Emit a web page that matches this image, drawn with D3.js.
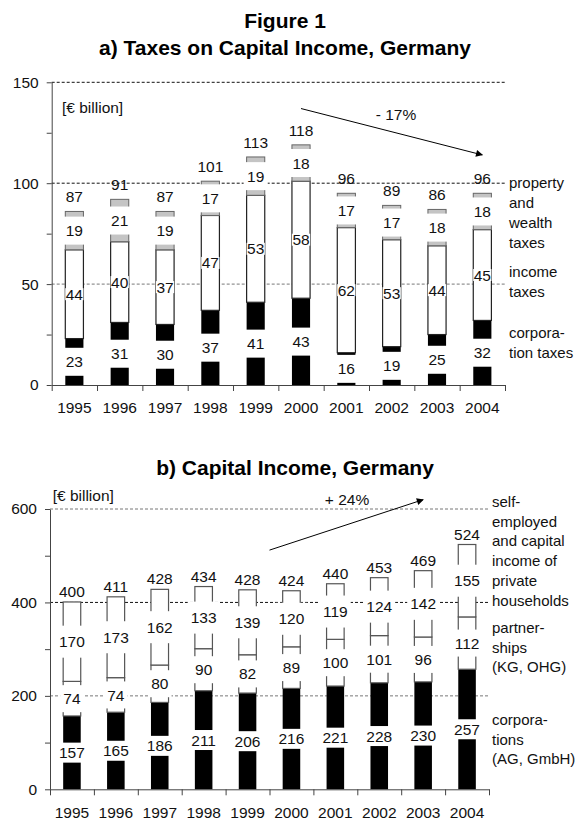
<!DOCTYPE html>
<meta charset="utf-8">
<style>
body { margin: 0; background: #fff; }
svg { font-family: "Liberation Sans", Arial, sans-serif; }
.title { font-size: 21px; font-weight: bold; text-anchor: middle; fill: #000; }
.num { font-size: 15.5px; fill: #111; text-anchor: middle; }
.unit { font-size: 15.5px; fill: #111; }
.legend { font-size: 15px; fill: #111; }
.axis text { font-size: 15.5px; fill: #111; font-family: "Liberation Sans", Arial, sans-serif; }
.axis path, .axis line { stroke: #444; }
</style>
<body>
<script src="https://d3js.org/d3.v7.min.js"></script>
<script>
var years = [1995, 1996, 1997, 1998, 1999, 2000, 2001, 2002, 2003, 2004];

// a) taxes on capital income, € billion
var corpTax   = [23, 31, 30, 37, 41, 43, 16, 19, 25, 32];
var incomeTax = [44, 40, 37, 47, 53, 58, 62, 53, 44, 45];
var propTax   = [19, 21, 19, 17, 19, 18, 17, 17, 18, 18];
var taxTotal  = [87, 91, 87, 101, 113, 118, 96, 89, 86, 96];
var taxTicks  = [0, 25, 50, 75, 100, 125, 150];
var taxTickLabels = [0, 50, 100, 150];
var taxLegend = [["property", "and", "wealth", "taxes"], ["income", "taxes"], ["corpora-", "tion taxes"]];

// b) capital income, € billion
var corpInc    = [157, 165, 186, 211, 206, 216, 221, 228, 230, 257];
var partnerInc = [74, 74, 80, 90, 82, 89, 100, 101, 96, 112];
var selfInc    = [170, 173, 162, 133, 139, 120, 119, 124, 142, 155];
var incTotal   = [400, 411, 428, 434, 428, 424, 440, 453, 469, 524];
var incTicks   = [0, 100, 200, 300, 400, 500, 600];
var incTickLabels = [0, 200, 400, 600];
var incLegend = [["self-", "employed", "and capital", "income of", "private", "households"], ["partner-", "ships", "(KG, OHG)"], ["corpora-", "tions", "(AG, GmbH)"]];

var svg = d3.select("body").append("svg")
    .attr("width", 579)
    .attr("height", 823);

svg.append("defs").append("marker")
    .attr("id", "arrow")
    .attr("viewBox", "0 0 10 10")
    .attr("refX", 9).attr("refY", 5)
    .attr("markerWidth", 9).attr("markerHeight", 7)
    .attr("markerUnits", "userSpaceOnUse")
    .attr("orient", "auto")
  .append("path")
    .attr("d", "M0,0L10,5L0,10z")
    .attr("fill", "#000");

svg.append("text").attr("class", "title").attr("x", 285).attr("y", 28).text("Figure 1");
svg.append("text").attr("class", "title").attr("x", 285).attr("y", 55).text("a) Taxes on Capital Income, Germany");
svg.append("text").attr("class", "title").attr("x", 295).attr("y", 475).text("b) Capital Income, Germany");

function drawPanel(p) {
  var g = svg.append("g");

  var x = d3.scaleBand().domain(years).range(p.xr).paddingInner(0.6).paddingOuter(0.3);
  var xb = d3.scaleLinear().domain([0, years.length]).range(p.xr);
  var y = d3.scaleLinear().domain([0, p.ymax]).range(p.yr);
  var cx = function(i) { return xb(i + 0.5); };

  // gridlines
  p.grid.forEach(function(gl) {
    g.append("line")
      .attr("x1", p.xr[0]).attr("x2", p.xr[1])
      .attr("y1", y(gl.v)).attr("y2", y(gl.v))
      .attr("stroke", gl.c).attr("stroke-width", 1)
      .attr("stroke-dasharray", "3,2");
  });

  // stacked segments
  var base = years.map(function() { return 0; });
  var segs = [];
  p.series.forEach(function(s) {
    s.vals.forEach(function(v, i) {
      segs.push({s: s, i: i, y0: base[i], y1: base[i] + v, v: v});
      base[i] += v;
    });
  });

  g.selectAll(".seg").data(segs).enter().append("rect")
    .attr("x", function(d) { return x(years[d.i]); })
    .attr("y", function(d) { return y(d.y1); })
    .attr("width", x.bandwidth())
    .attr("height", function(d) { return y(d.y0) - y(d.y1); })
    .attr("fill", function(d) { return d.s.fill; })
    .attr("stroke", function(d) { return d.s.stroke; })
    .attr("stroke-width", function(d) { return d.s.sw; });

  // segment labels with white boxes
  segs.forEach(function(d) {
    var ym = y((d.y0 + d.y1) / 2);
    var r = g.append("rect").attr("fill", "#fff");
    var t = g.append("text").attr("class", "num")
      .attr("x", cx(d.i)).attr("y", ym).attr("dy", "0.36em")
      .text(d.v);
    var w = t.node().getComputedTextLength();
    var bw = d.s.tight ? w + 1 : Math.max(w, x.bandwidth()) + 6;
    r.attr("x", cx(d.i) - bw / 2).attr("width", bw)
      .attr("y", ym - d.s.box / 2).attr("height", d.s.box);
  });

  // totals
  g.selectAll(".tot").data(p.totals).enter().append("text")
    .attr("class", "num")
    .attr("x", function(d, i) { return cx(i); })
    .attr("y", function(d, i) { return y(base[i]) - p.totOff; })
    .text(function(d) { return d; });

  // axes
  g.append("g").attr("class", "axis")
    .attr("transform", "translate(" + p.xr[0] + ",0)")
    .call(d3.axisLeft(y).tickValues(p.ticks).tickSize(5).tickSizeOuter(0).tickPadding(8)
      .tickFormat(function(d) { return p.tickLabels.indexOf(d) >= 0 ? d : ""; }));

  g.append("g").attr("class", "axis")
    .attr("transform", "translate(0," + p.yr[0] + ")")
    .call(d3.axisBottom(xb).tickValues(d3.range(years.length + 1)).tickSize(6).tickSizeOuter(0).tickFormat(""));

  g.append("g").attr("class", "axis")
    .attr("transform", "translate(0," + p.yr[0] + ")")
    .call(d3.axisBottom(x).tickSize(0).tickPadding(p.xPad))
    .call(function(a) { a.select(".domain").remove(); });

  // unit
  g.append("text").attr("class", "unit").attr("x", p.unit[0]).attr("y", p.unit[1]).text("[€ billion]");

  // trend arrow
  var a = p.arrow;
  g.append("line")
    .attr("x1", xb(a.from[0])).attr("y1", y(a.from[1]))
    .attr("x2", xb(a.to[0])).attr("y2", y(a.to[1]))
    .attr("stroke", "#000").attr("stroke-width", 1)
    .attr("marker-end", "url(#arrow)");
  g.append("text").attr("class", "num")
    .attr("x", a.lx).attr("y", a.ly).text(a.label);

  // legend
  p.legend.forEach(function(lines, k) {
    lines.forEach(function(l, j) {
      g.append("text").attr("class", "legend")
        .attr("x", p.legX).attr("y", p.legY[k] + j * p.legLH)
        .text(l);
    });
  });
}

drawPanel({
  xr: [51.7, 505], yr: [385, 82.3], ymax: 150,
  series: [
    {vals: corpTax, fill: "#000", stroke: "none", sw: 0, box: 28},
    {vals: incomeTax, fill: "#fff", stroke: "#222", sw: 1.2, box: 12, tight: true},
    {vals: propTax, fill: "#c4c4c4", stroke: "#666", sw: 1, box: 28}
  ],
  totals: taxTotal, totOff: 9,
  grid: [{v: 50, c: "#777"}, {v: 100, c: "#111"}, {v: 150, c: "#111"}],
  ticks: taxTicks, tickLabels: taxTickLabels, xPad: 17,
  unit: [62, 113],
  arrow: {from: [5.5, 137], to: [9.5, 114], label: "- 17%", lx: 396, ly: 120},
  legend: taxLegend, legX: 509, legY: [188, 277, 338], legLH: 20
});

drawPanel({
  xr: [50, 489], yr: [789.3, 509], ymax: 600,
  series: [
    {vals: corpInc, fill: "#000", stroke: "none", sw: 0, box: 20},
    {vals: partnerInc, fill: "#fff", stroke: "#555", sw: 1.2, box: 27},
    {vals: selfInc, fill: "#fff", stroke: "#555", sw: 1.2, box: 32}
  ],
  totals: incTotal, totOff: 5,
  grid: [{v: 200, c: "#777"}, {v: 400, c: "#111"}, {v: 600, c: "#777"}],
  ticks: incTicks, tickLabels: incTickLabels, xPad: 18,
  unit: [52.7, 501],
  arrow: {from: [5, 512], to: [8.5, 620], label: "+ 24%", lx: 347, ly: 505},
  legend: incLegend, legX: 492, legY: [507, 633, 725], legLH: 19.7
});
</script>
